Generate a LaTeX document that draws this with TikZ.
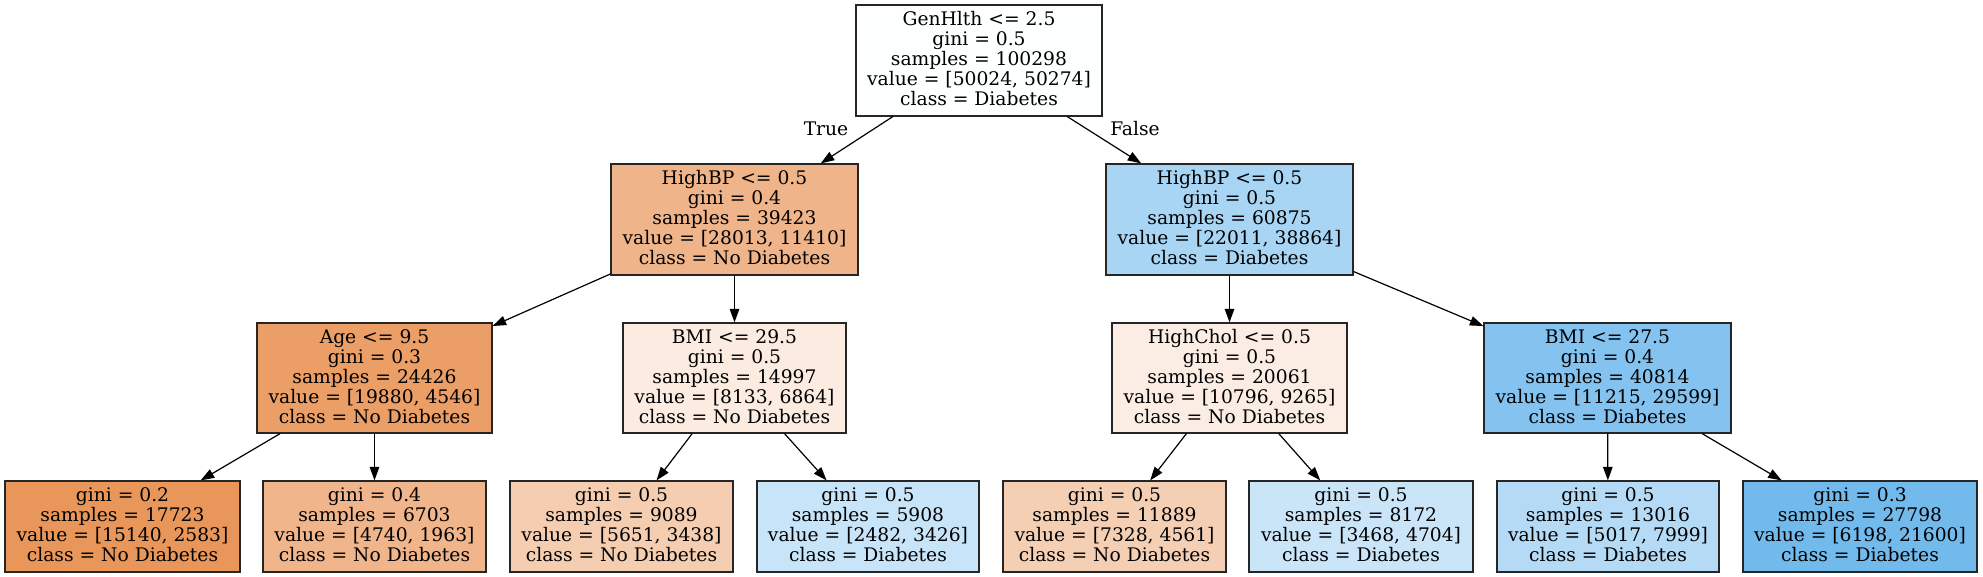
\documentclass[tikz,border=0pt]{standalone}
\usepackage{fontspec}
\setmainfont{DejaVu Serif}
\usetikzlibrary{arrows.meta}
\definecolor{cRoot}{RGB}{254,255,255}
\definecolor{cHBL}{RGB}{240,180,138}
\definecolor{cHBR}{RGB}{169,213,244}
\definecolor{cAge}{RGB}{235,158,102}
\definecolor{cBMIa}{RGB}{251,235,224}
\definecolor{cHChol}{RGB}{251,237,227}
\definecolor{cBMIb}{RGB}{132,194,239}
\definecolor{cLa}{RGB}{233,150,91}
\definecolor{cLb}{RGB}{240,181,139}
\definecolor{cLc}{RGB}{245,206,177}
\definecolor{cLd}{RGB}{200,228,248}
\definecolor{cLe}{RGB}{245,207,180}
\definecolor{cLf}{RGB}{203,229,248}
\definecolor{cLg}{RGB}{181,218,245}
\definecolor{cLh}{RGB}{114,185,236}
\newcommand\topst{\vrule width 0pt height 15pt depth 0pt\relax}
\newcommand\botst{\vrule width 0pt height 0pt depth 4.6pt\relax}
\begin{document}
\lineskiplimit=-10pt\relax
\begin{tikzpicture}[x=1pt,y=-1pt,
  tn/.style={draw=black!85, line width=1.2pt, inner sep=0pt, align=center,
    font=\fontsize{18.7}{20}\selectfont, minimum height=111pt},
  lf/.style={tn, minimum height=91pt},
  lab/.style={inner sep=0pt, anchor=base, font=\fontsize{18.7}{20}\selectfont},
  edge/.style={-{Triangle[length=13.5pt,width=9.5pt]}, line width=1.2pt, black}]
\fill[white] (0,0) rectangle (1983,577);
\useasboundingbox (0,0) rectangle (1983,577);
% level 0
\node[tn, fill=cRoot, minimum width=246pt] (root) at (979,60.5)
  {\topst GenHlth <= 2.5\\gini = 0.5\\samples = 100298\\value = [50024, 50274]\\class = Diabetes\botst};
% level 1
\node[tn, fill=cHBL, minimum width=247pt] (hbl) at (734.5,219.5)
  {\topst HighBP <= 0.5\\gini = 0.4\\samples = 39423\\value = [28013, 11410]\\class = No Diabetes\botst};
\node[tn, fill=cHBR, minimum width=247pt] (hbr) at (1229.5,219.5)
  {\topst HighBP <= 0.5\\gini = 0.5\\samples = 60875\\value = [22011, 38864]\\class = Diabetes\botst};
% level 2
\node[tn, fill=cAge, minimum width=235pt, minimum height=110pt] (age) at (374.5,378)
  {\topst Age <= 9.5\\gini = 0.3\\samples = 24426\\value = [19880, 4546]\\class = No Diabetes\botst};
\node[tn, fill=cBMIa, minimum width=223pt, minimum height=110pt] (bmia) at (734.5,378)
  {\topst BMI <= 29.5\\gini = 0.5\\samples = 14997\\value = [8133, 6864]\\class = No Diabetes\botst};
\node[tn, fill=cHChol, minimum width=235pt, minimum height=110pt] (hchol) at (1229.5,378)
  {\topst HighChol <= 0.5\\gini = 0.5\\samples = 20061\\value = [10796, 9265]\\class = No Diabetes\botst};
\node[tn, fill=cBMIb, minimum width=247pt, minimum height=110pt] (bmib) at (1607.5,378)
  {\topst BMI <= 27.5\\gini = 0.4\\samples = 40814\\value = [11215, 29599]\\class = Diabetes\botst};
% leaves
\node[lf, fill=cLa, minimum width=235pt] (la) at (122.5,526.5)
  {\topst gini = 0.2\\samples = 17723\\value = [15140, 2583]\\class = No Diabetes\botst};
\node[lf, fill=cLb, minimum width=223pt] (lb) at (374.5,526.5)
  {\topst gini = 0.4\\samples = 6703\\value = [4740, 1963]\\class = No Diabetes\botst};
\node[lf, fill=cLc, minimum width=223pt] (lc) at (621.5,526.5)
  {\topst gini = 0.5\\samples = 9089\\value = [5651, 3438]\\class = No Diabetes\botst};
\node[lf, fill=cLd, minimum width=222pt] (ld) at (868,526.5)
  {\topst gini = 0.5\\samples = 5908\\value = [2482, 3426]\\class = Diabetes\botst};
\node[lf, fill=cLe, minimum width=223pt] (le) at (1114.5,526.5)
  {\topst gini = 0.5\\samples = 11889\\value = [7328, 4561]\\class = No Diabetes\botst};
\node[lf, fill=cLf, minimum width=224pt] (lf6) at (1361,526.5)
  {\topst gini = 0.5\\samples = 8172\\value = [3468, 4704]\\class = Diabetes\botst};
\node[lf, fill=cLg, minimum width=222pt] (lg) at (1608,526.5)
  {\topst gini = 0.5\\samples = 13016\\value = [5017, 7999]\\class = Diabetes\botst};
\node[lf, fill=cLh, minimum width=234pt] (lh) at (1860,526.5)
  {\topst gini = 0.3\\samples = 27798\\value = [6198, 21600]\\class = Diabetes\botst};
% edges
\draw[edge] (root) -- (hbl);
\draw[edge] (root) -- (hbr);
\draw[edge] (hbl) -- (age);
\draw[edge] (hbl) -- (bmia);
\draw[edge] (age) -- (la);
\draw[edge] (age) -- (lb);
\draw[edge] (bmia) -- (lc);
\draw[edge] (bmia) -- (ld);
\draw[edge] (hbr) -- (hchol);
\draw[edge] (hbr) -- (bmib);
\draw[edge] (hchol) -- (le);
\draw[edge] (hchol) -- (lf6);
\draw[edge] (bmib) -- (lg);
\draw[edge] (bmib) -- (lh);
% edge labels
\node[lab] (ltrue) at (826,136) {True};
\node[lab] (lfalse) at (1135,136) {False};
\end{tikzpicture}
\end{document}
